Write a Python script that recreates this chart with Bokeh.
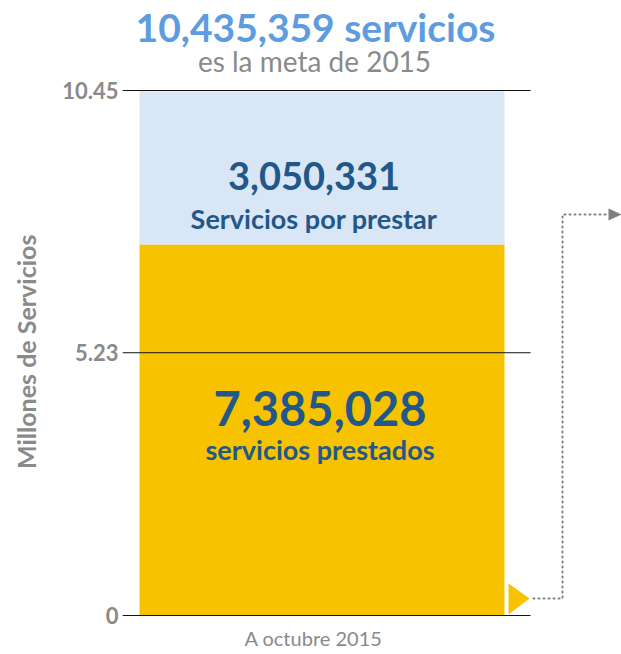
from bokeh.plotting import figure
from bokeh.models import Range1d, FixedTicker
from bokeh.core.properties import value
from bokeh.embed import file_html
from bokeh.resources import INLINE

# ---- data ----
meta_total = 10435359
prestados = 7385028
por_prestar = 3050331
category = ["A octubre 2015"]
tick_values = [0, 5.23, 10.45]
tick_labels = ["0", "5.23", "10.45"]
title_text = "10,435,359 servicios"
subtitle_text = "es la meta de 2015"
y_axis_title = "Millones de Servicios"
label_prestados = "servicios prestados"
label_por_prestar = "Servicios por prestar"

# ---- styling constants ----
FONT = "Lato"
BLUE_TITLE = "#5d9cdf"
DARK_BLUE = "#22578a"
GRAY = "#8a8a8a"
YELLOW = "#f7c300"
LIGHT_BLUE = "#d9e6f5"

PX = 10.45 / 525.0  # data units per pixel vertically
W = 621
H = 654

vals_m = [prestados / 1e6, por_prestar / 1e6]

p = figure(width=W, height=H, output_backend="svg", toolbar_location=None,
           x_range=Range1d(-199.5, 299.5),
           y_range=Range1d(-39 * PX, 10.45 + 90 * PX),
           min_border_left=122, min_border_right=0, min_border_top=0,
           min_border_bottom=0)
p.outline_line_color = None
p.grid.visible = False
p.background_fill_color = "white"
p.xaxis.visible = False

# bars (stacked)
bar_w = 365
p.vbar(x=[0], bottom=[0], top=[vals_m[0]], width=bar_w, color=YELLOW, line_color=None)
p.vbar(x=[0], bottom=[vals_m[0]], top=[vals_m[0] + vals_m[1]], width=bar_w,
       color=LIGHT_BLUE, line_color=None)

# grid lines
p.segment(x0=[-199.5] * len(tick_values), x1=[208.5] * len(tick_values),
          y0=tick_values, y1=tick_values, line_color="#111111", line_width=1)

# y axis
p.yaxis.ticker = FixedTicker(ticks=tick_values)
p.yaxis.major_label_overrides = {v: l for v, l in zip(tick_values, tick_labels)}
p.yaxis.axis_line_color = None
p.yaxis.major_tick_line_color = None
p.yaxis.minor_tick_line_color = None
p.yaxis.major_tick_out = 0
p.yaxis.major_tick_in = 0
p.yaxis.minor_tick_out = 0
p.yaxis.major_label_standoff = 4
p.yaxis.major_label_text_font = FONT
p.yaxis.major_label_text_font_style = "bold"
p.yaxis.major_label_text_font_size = "22px"
p.yaxis.major_label_text_color = GRAY
# padding with no-break spaces to move the rotated title down to match the reference
p.yaxis.axis_label = y_axis_title + "\u00a0" * 8
p.yaxis.axis_label_text_font = FONT
p.yaxis.axis_label_text_font_style = "bold"
p.yaxis.axis_label_text_font_size = "25px"
p.yaxis.axis_label_text_color = GRAY
p.yaxis.axis_label_standoff = 18

# category label under the bar
p.text(x=[-8.5], y=[(615 - 637) * PX], text=category, text_align="center",
       text_baseline="middle", text_font=value(FONT), text_font_size="20px",
       text_color=GRAY)

# decorative pointer: triangle + dotted path + arrow head
tip_y = 17 * PX
p.patch(x=[186.5, 186.5, 207.5], y=[1 * PX, 32 * PX, tip_y], color=YELLOW, line_color=None)
turn_y = (615 - 214) * PX
p.line(x=[211.5, 240.5, 240.5, 287], y=[tip_y, tip_y, turn_y, turn_y],
       line_color="#7f7f7f", line_width=2, line_dash="1 4", line_cap="round")
p.patch(x=[286.5, 286.5, 299.5], y=[turn_y + 6 * PX, turn_y - 6 * PX, turn_y],
        color="#7f7f7f", line_color=None)

# labels
mid_low = vals_m[0] / 2
mid_high = vals_m[0] + vals_m[1] / 2


def fmt(n):
    return f"{n:,}"


labels = [
    (-6.5, (615 - 26) * PX, title_text, "39px", "bold", BLUE_TITLE),
    (-7.5, (615 - 60) * PX, subtitle_text, "28px", "normal", GRAY),
    (-8, mid_high - 8 * PX, fmt(por_prestar), "38px", "bold", DARK_BLUE),
    (-8, mid_high - 51 * PX, label_por_prestar, "27px", "bold", DARK_BLUE),
    (-2, mid_low + 21 * PX, fmt(prestados), "47px", "bold", DARK_BLUE),
    (-2, mid_low - 20 * PX, label_prestados, "27px", "bold", DARK_BLUE),
]
for x, y, t, size, style, col in labels:
    p.text(x=[x], y=[y], text=[t], text_align="center", text_baseline="middle",
           text_font=value(FONT), text_font_size=size, text_font_style=style,
           text_color=col)

open("out.html", "w").write(file_html(p, INLINE))
